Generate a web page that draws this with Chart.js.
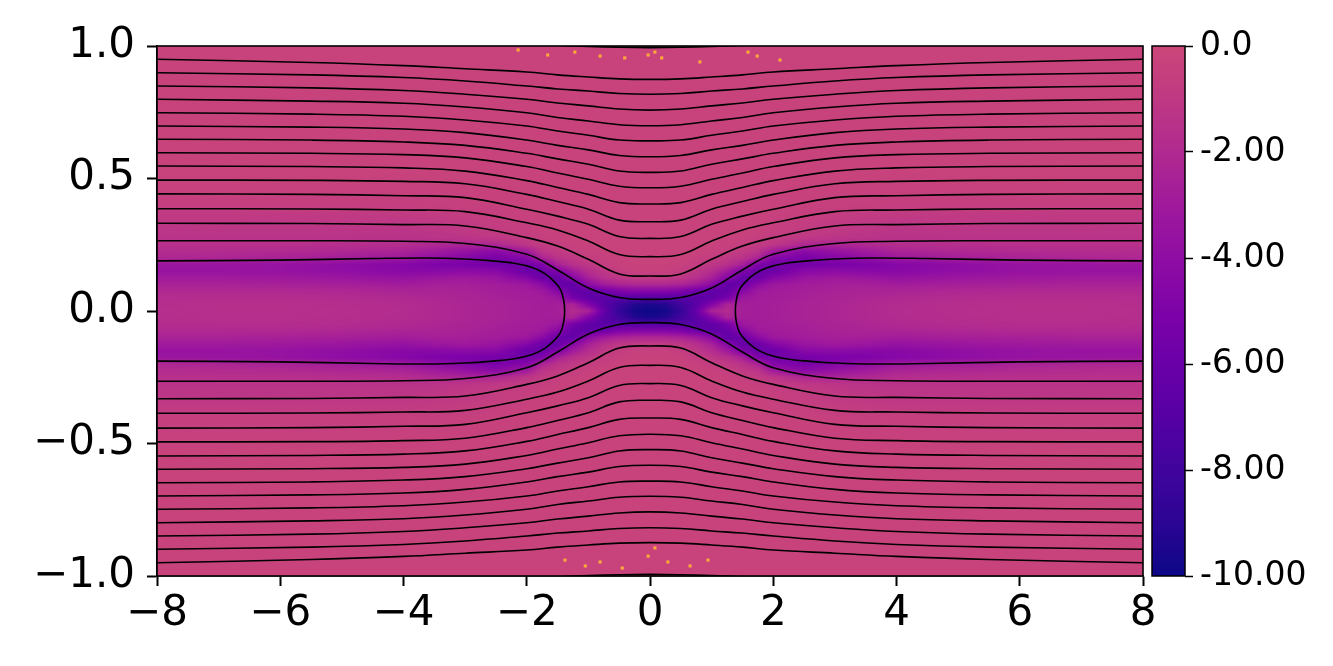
<!DOCTYPE html>
<html>
<head>
<meta charset="utf-8">
<script src="https://cdn.jsdelivr.net/npm/chart.js@4.4.1/dist/chart.umd.min.js"></script>
<style>
  html, body { margin: 0; padding: 0; background: #fff; }
  #wrap { position: relative; width: 1333px; height: 666px; }
  #main { position: absolute; left: 0; top: 0; }
  #cbar { position: absolute; left: 1145px; top: 0; }
</style>
</head>
<body>
<div id="wrap">
  <canvas id="main" width="1333" height="666"></canvas>
  <canvas id="cbar" width="188" height="666"></canvas>
</div>
<script>
// axis ticks
const xTicks = [-8, -6, -4, -2, 0, 2, 4, 6, 8];
const yTicks = [-1, -0.5, 0, 0.5, 1];
const cbTicks = [0, -2, -4, -6, -8, -10];

// field lines, upper half, read at these x (right side; left side and lower half are mirror images)
const lineX = [0, 0.5, 1, 1.5, 2, 3, 4, 5.5, 8];
const line00 = [0.994, 0.995, 0.998, 1.003, 1.01, 1.02, 1.03, 1.04, 1.05];
const line01 = [0.874, 0.876, 0.883, 0.891, 0.902, 0.914, 0.926, 0.938, 0.950];
const line02 = [0.818, 0.821, 0.830, 0.838, 0.849, 0.868, 0.881, 0.891, 0.899];
const line03 = [0.758, 0.762, 0.774, 0.785, 0.799, 0.818, 0.832, 0.842, 0.849];
const line04 = [0.699, 0.703, 0.717, 0.730, 0.748, 0.770, 0.784, 0.792, 0.799];
const line05 = [0.642, 0.645, 0.663, 0.679, 0.698, 0.721, 0.735, 0.743, 0.748];
const line06 = [0.582, 0.587, 0.608, 0.625, 0.645, 0.673, 0.687, 0.694, 0.698];
const line07 = [0.523, 0.528, 0.554, 0.574, 0.595, 0.625, 0.638, 0.645, 0.648];
const line08 = [0.465, 0.471, 0.497, 0.521, 0.545, 0.578, 0.590, 0.595, 0.597];
const line09 = [0.404, 0.409, 0.440, 0.466, 0.492, 0.528, 0.540, 0.545, 0.547];
const line10 = [0.337, 0.343, 0.384, 0.413, 0.440, 0.480, 0.489, 0.493, 0.494];
const line11 = [0.274, 0.281, 0.327, 0.358, 0.384, 0.428, 0.435, 0.440, 0.442];
const line12 = [0.205, 0.213, 0.264, 0.306, 0.333, 0.375, 0.381, 0.385, 0.386];
const line13 = [0.132, 0.140, 0.195, 0.245, 0.277, 0.321, 0.326, 0.330, 0.331];
const line14 = [0.044, 0.051, 0.087, 0.155, 0.214, 0.255, 0.263, 0.265, 0.265];
const openLines = [line00, line01, line02, line03, line04, line05, line06, line07,
                   line08, line09, line10, line11, line12, line13, line14];

// closed island contour, upper branch of the right island (tip first)
const islandX = [1.385, 1.40, 1.45, 1.55, 1.7, 1.9, 2.2, 2.6, 3.0, 3.6, 4.5, 6, 8];
const islandY = [0, 0.04, 0.08, 0.11, 0.14, 0.163, 0.18, 0.19, 0.196, 0.2, 0.198, 0.192, 0.189];

// colour field, quadrant x>=0, y>=0 (rows follow heatY, columns follow heatX)
const heatX = [0, 0.25, 0.5, 0.75, 1, 1.25, 1.5, 1.75, 2, 2.5, 3, 3.5, 4, 5, 6, 7, 8];
const heatY = [0, 0.025, 0.05, 0.075, 0.1, 0.125, 0.15, 0.175, 0.2, 0.225, 0.25, 0.275, 0.3, 0.35, 0.4, 0.5, 0.7, 1];
const heatRows = [
  [-10, -9.8, -8.6, -6.2, -2.4, -1.9, -2.7, -2.8, -2.7, -2.5, -2.3, -2.1, -1.9, -1.7, -1.6, -1.6, -1.7],
  [-9.6, -9.3, -8.0, -6.8, -4.8, -2.4, -2.8, -2.8, -2.7, -2.5, -2.3, -2.1, -1.95, -1.75, -1.65, -1.65, -1.75],
  [-7.0, -7.0, -6.8, -6.8, -6.5, -5.5, -3.2, -2.9, -2.8, -2.6, -2.4, -2.25, -2.1, -1.9, -1.8, -1.8, -1.85],
  [-4.6, -4.6, -5.0, -5.8, -6.5, -6.2, -4.5, -3.1, -2.9, -2.7, -2.5, -2.4, -2.4, -2.2, -2.1, -2.1, -2.1],
  [-2.2, -2.2, -2.4, -3.0, -4.2, -6.5, -6.0, -4.2, -3.2, -2.9, -2.7, -2.7, -2.9, -2.7, -2.6, -2.5, -2.5],
  [-0.9, -0.9, -1.1, -1.6, -2.6, -4.5, -6.2, -6.0, -4.6, -3.4, -3.1, -3.3, -3.6, -3.3, -3.1, -3.0, -3.0],
  [-0.45, -0.45, -0.7, -1.1, -1.8, -3.0, -5.0, -6.0, -6.0, -4.4, -4.2, -4.4, -4.4, -3.9, -3.6, -3.5, -3.5],
  [-0.35, -0.35, -0.45, -0.7, -1.1, -1.6, -2.6, -5.0, -5.6, -5.5, -5.2, -5.0, -4.6, -4.0, -3.6, -3.4, -3.3],
  [-0.3, -0.3, -0.35, -0.5, -0.7, -1.0, -1.4, -2.4, -4.6, -5.3, -4.6, -3.9, -3.2, -2.8, -2.5, -2.3, -2.2],
  [-0.3, -0.3, -0.3, -0.35, -0.45, -0.6, -0.9, -1.3, -3.0, -4.3, -3.6, -3.0, -2.4, -2.2, -2.0, -1.9, -1.85],
  [-0.3, -0.3, -0.3, -0.3, -0.35, -0.45, -0.6, -0.8, -1.2, -2.2, -2.4, -2.1, -1.8, -1.7, -1.6, -1.6, -1.6],
  [-0.3, -0.3, -0.3, -0.3, -0.3, -0.35, -0.45, -0.55, -0.8, -1.1, -1.3, -1.4, -1.45, -1.4, -1.4, -1.4, -1.4],
  [-0.3, -0.3, -0.3, -0.3, -0.3, -0.3, -0.35, -0.45, -0.6, -0.8, -1.05, -1.2, -1.3, -1.3, -1.3, -1.3, -1.3],
  [-0.3, -0.3, -0.3, -0.3, -0.3, -0.3, -0.3, -0.35, -0.45, -0.6, -0.8, -0.9, -1.0, -1.0, -1.0, -1.0, -1.0],
  [-0.3, -0.3, -0.3, -0.3, -0.3, -0.3, -0.3, -0.3, -0.35, -0.45, -0.5, -0.55, -0.6, -0.6, -0.6, -0.6, -0.6],
  [-0.3, -0.3, -0.3, -0.3, -0.3, -0.3, -0.3, -0.3, -0.32, -0.32, -0.33, -0.35, -0.35, -0.35, -0.35, -0.35, -0.35],
  [-0.3, -0.3, -0.3, -0.3, -0.3, -0.3, -0.3, -0.3, -0.3, -0.3, -0.3, -0.3, -0.3, -0.3, -0.3, -0.3, -0.3],
  [-0.3, -0.3, -0.3, -0.3, -0.3, -0.3, -0.3, -0.3, -0.3, -0.3, -0.3, -0.3, -0.3, -0.3, -0.3, -0.3, -0.3]
];

// bright specks near the top and bottom edges
const speckX = [-2.14, -1.66, -1.22, -0.81, -0.41, -0.03, 0.08, 0.19, 0.81, 1.59, 1.74, 2.11,
                -1.38, -1.05, -0.81, -0.45, -0.03, 0.08, 0.29, 0.65, 0.94];
const speckY = [0.985, 0.966, 0.977, 0.962, 0.955, 0.966, 0.977, 0.955, 0.940, 0.977, 0.962, 0.947,
                -0.94, -0.962, -0.947, -0.970, -0.925, -0.894, -0.947, -0.962, -0.940];

// plasma colours from -10 to 0
const cmapStops = ['#0d0887', '#2c0594', '#41049d', '#5601a4', '#6a00a8', '#7e03a8',
                   '#8f0da4', '#a01a9c', '#b12a90', '#bf3984', '#cc4778'];
const vMin = -10, vMax = 0;

const FONT = "'DejaVu Sans', 'Liberation Sans', sans-serif";
const minus = v => (v < 0 ? '\u2212' : '') + Math.abs(v);

const stopRgb = cmapStops.map(h => [parseInt(h.slice(1, 3), 16), parseInt(h.slice(3, 5), 16), parseInt(h.slice(5, 7), 16)]);
function colourOf(v) {
  let t = (v - vMin) / (vMax - vMin) * (stopRgb.length - 1);
  t = Math.max(0, Math.min(stopRgb.length - 1, t));
  const k = Math.min(stopRgb.length - 2, Math.floor(t)), f = t - k;
  const a = stopRgb[k], b = stopRgb[k + 1];
  return [a[0] + (b[0] - a[0]) * f, a[1] + (b[1] - a[1]) * f, a[2] + (b[2] - a[2]) * f];
}

function locate(nodes, v) {
  if (v >= nodes[nodes.length - 1]) return [nodes.length - 2, 1];
  let k = 0;
  while (nodes[k + 1] < v) k++;
  return [k, (v - nodes[k]) / (nodes[k + 1] - nodes[k])];
}

// heat map drawn under the lines, positioned through the chart scales
const heatPlugin = {
  id: 'heat',
  beforeDatasetsDraw(chart) {
    const { ctx, chartArea: a, scales: { x, y } } = chart;
    const w = Math.round(a.right - a.left), h = Math.round(a.bottom - a.top);
    const img = ctx.createImageData(w, h);
    const cols = [], rows = [];
    for (let i = 0; i < w; i++) cols.push(locate(heatX, Math.abs(x.getValueForPixel(a.left + i + 0.5))));
    for (let j = 0; j < h; j++) rows.push(locate(heatY, Math.abs(y.getValueForPixel(a.top + j + 0.5))));
    for (let j = 0; j < h; j++) {
      const [r, fr] = rows[j];
      const r0 = heatRows[r], r1 = heatRows[r + 1];
      for (let i = 0; i < w; i++) {
        const [c, fc] = cols[i];
        const top = r0[c] + (r0[c + 1] - r0[c]) * fc;
        const bot = r1[c] + (r1[c + 1] - r1[c]) * fc;
        const rgb = colourOf(top + (bot - top) * fr);
        const p = (j * w + i) * 4;
        img.data[p] = rgb[0]; img.data[p + 1] = rgb[1]; img.data[p + 2] = rgb[2]; img.data[p + 3] = 255;
      }
    }
    ctx.putImageData(img, Math.round(a.left), Math.round(a.top));
  },
  afterDatasetsDraw(chart) {
    const { ctx, chartArea: a } = chart;
    ctx.save();
    ctx.strokeStyle = '#000';
    ctx.lineWidth = 1.6;
    ctx.strokeRect(a.left, a.top, a.right - a.left, a.bottom - a.top);
    ctx.restore();
  }
};

// datasets
const datasets = [];
const lineStyle = { showLine: true, pointRadius: 0, borderColor: '#000', backgroundColor: '#000',
                    borderWidth: 1.6, fill: false, clip: 0, tension: 0.4 };
openLines.forEach(ys => {
  [1, -1].forEach(s => {
    const pts = [];
    for (let i = lineX.length - 1; i > 0; i--) pts.push({ x: -lineX[i], y: s * ys[i] });
    for (let i = 0; i < lineX.length; i++) pts.push({ x: lineX[i], y: s * ys[i] });
    datasets.push({ ...lineStyle, data: pts });
  });
});
[1, -1].forEach(side => {
  const pts = [];
  for (let i = islandX.length - 1; i > 0; i--) pts.push({ x: side * islandX[i], y: -islandY[i] });
  for (let i = 0; i < islandX.length; i++) pts.push({ x: side * islandX[i], y: islandY[i] });
  datasets.push({ ...lineStyle, data: pts });
});
datasets.push({
  data: speckX.map((v, i) => ({ x: v, y: speckY[i] })),
  showLine: false, pointStyle: 'rect', pointRadius: 2.2, borderWidth: 0,
  backgroundColor: '#fca93a'
});

new Chart(document.getElementById('main'), {
  type: 'scatter',
  data: { datasets },
  plugins: [heatPlugin],
  options: {
    responsive: false,
    animation: false,
    events: [],
    layout: { padding: { left: 0, right: 190, top: 46, bottom: 0 } },
    plugins: { legend: { display: false }, tooltip: { enabled: false } },
    scales: {
      x: {
        type: 'linear', min: -8, max: 8,
        afterFit: s => { s.height = 90; },
        afterBuildTicks: s => { s.ticks = xTicks.map(v => ({ value: v })); },
        grid: { display: true, drawOnChartArea: false, drawTicks: true, tickLength: 10, tickWidth: 2, tickColor: '#000' },
        border: { display: true, color: '#000', width: 1.6 },
        ticks: { color: '#000', font: { family: FONT, size: 42 }, padding: 3, maxRotation: 0, autoSkip: false,
                 callback: v => minus(v) }
      },
      y: {
        type: 'linear', min: -1, max: 1,
        afterFit: s => { s.width = 157; },
        afterBuildTicks: s => { s.ticks = yTicks.map(v => ({ value: v })); },
        grid: { display: true, drawOnChartArea: false, drawTicks: true, tickLength: 10, tickWidth: 2, tickColor: '#000' },
        border: { display: true, color: '#000', width: 1.6 },
        ticks: { color: '#000', font: { family: FONT, size: 42 }, padding: 12, autoSkip: false,
                 callback: v => (v < 0 ? '\u2212' : '') + Math.abs(v).toFixed(1) }
      }
    }
  }
});

// colour bar
const barPlugin = {
  id: 'bar',
  beforeDatasetsDraw(chart) {
    const { ctx, chartArea: a, scales: { y } } = chart;
    for (let py = Math.floor(a.top); py < Math.ceil(a.bottom); py++) {
      const rgb = colourOf(y.getValueForPixel(py + 0.5));
      ctx.fillStyle = `rgb(${rgb[0] | 0},${rgb[1] | 0},${rgb[2] | 0})`;
      ctx.fillRect(a.left, py, a.right - a.left, 1);
    }
    ctx.save();
    ctx.strokeStyle = '#000';
    ctx.lineWidth = 1.5;
    ctx.strokeRect(a.left, a.top, a.right - a.left, a.bottom - a.top);
    ctx.restore();
  }
};

new Chart(document.getElementById('cbar'), {
  type: 'scatter',
  data: { datasets: [] },
  plugins: [barPlugin],
  options: {
    responsive: false,
    animation: false,
    events: [],
    layout: { padding: { left: 7, right: 0, top: 46, bottom: 90 } },
    plugins: { legend: { display: false }, tooltip: { enabled: false } },
    scales: {
      x: { display: false, min: 0, max: 1 },
      y: {
        type: 'linear', position: 'right', min: vMin, max: vMax,
        afterFit: s => { s.width = 148; },
        afterBuildTicks: s => { s.ticks = cbTicks.map(v => ({ value: v })); },
        grid: { display: true, drawOnChartArea: false, drawTicks: true, tickLength: 8, tickWidth: 1.5, tickColor: '#000' },
        border: { display: false },
        ticks: { color: '#000', font: { family: FONT, size: 33 }, padding: 7, autoSkip: false,
                 callback: v => v === 0 ? '0.0' : v.toFixed(2) }
      }
    }
  }
});
</script>
</body>
</html>
